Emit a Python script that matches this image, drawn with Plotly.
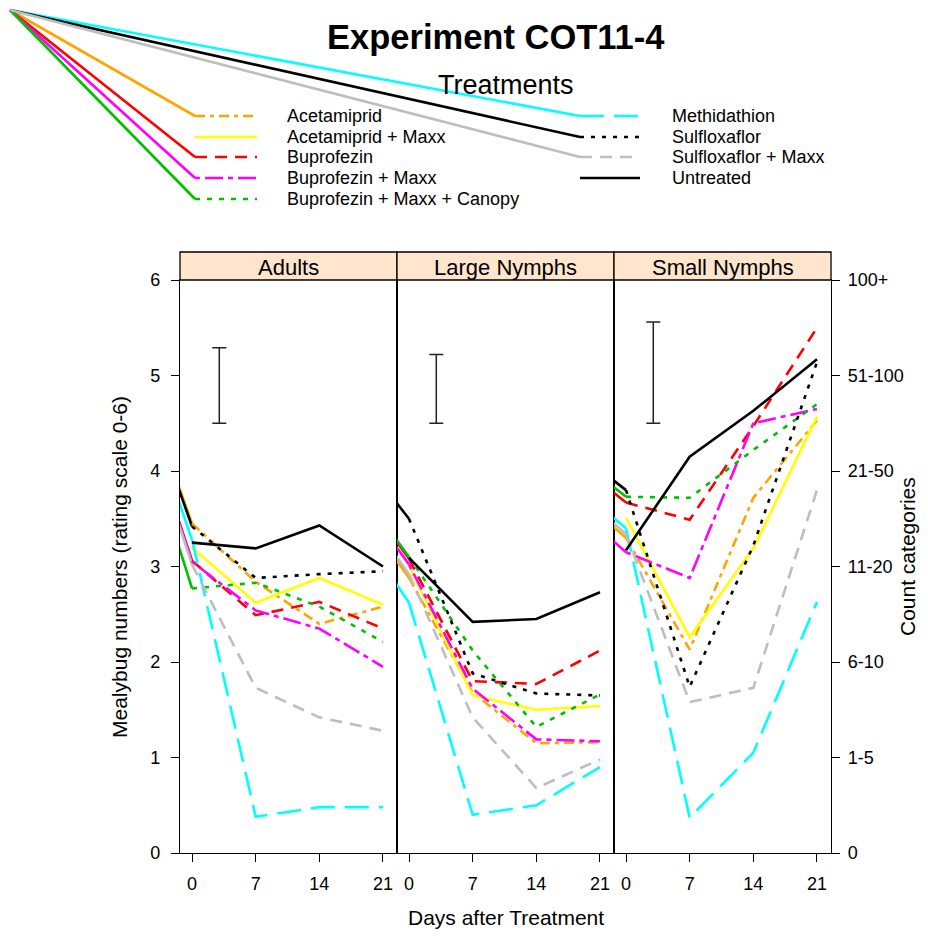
import plotly.graph_objects as go

# ---------------- data ----------------
days = [0, 7, 14, 21]
stages = ["Adults", "Large Nymphs", "Small Nymphs"]
treatments = ["Acetamiprid", "Acetamiprid + Maxx", "Buprofezin", "Buprofezin + Maxx",
              "Buprofezin + Maxx + Canopy", "Methidathion", "Sulfloxaflor",
              "Sulfloxaflor + Maxx", "Untreated"]

# mean rating (0-6) per stage [Adults, Large Nymphs, Small Nymphs] at days 0, 7, 14, 21
acetamiprid = [[3.45, 2.84, 2.40, 2.58], [2.88, 1.68, 1.15, 1.16], [3.30, 2.13, 3.72, 4.53]]
acetamiprid_maxx = [[3.20, 2.62, 2.88, 2.60], [3.00, 1.65, 1.50, 1.54], [3.51, 2.26, 3.19, 4.57]]
buprofezin = [[3.06, 2.49, 2.63, 2.35], [3.08, 1.80, 1.77, 2.12], [3.67, 3.49, 4.47, 5.50]]
buprofezin_maxx = [[3.05, 2.54, 2.35, 1.95], [3.02, 1.72, 1.19, 1.17], [3.15, 2.88, 4.50, 4.65]]
buprofezin_maxx_canopy = [[2.77, 2.83, 2.58, 2.21], [3.10, 2.12, 1.32, 1.66], [3.73, 3.72, 4.22, 4.70]]
methidathion = [[3.28, 0.38, 0.48, 0.48], [2.62, 0.40, 0.50, 0.90], [3.40, 0.37, 1.05, 2.63]]
sulfloxaflor = [[3.42, 2.88, 2.92, 2.95], [3.50, 1.88, 1.67, 1.65], [3.80, 1.74, 3.22, 5.14]]
sulfloxaflor_maxx = [[3.02, 1.73, 1.42, 1.28], [2.92, 1.42, 0.68, 0.98], [3.34, 1.58, 1.73, 3.80]]
untreated = [[3.25, 3.19, 3.43, 3.00], [3.09, 2.42, 2.45, 2.73], [3.17, 4.15, 4.63, 5.17]]

series = [acetamiprid, acetamiprid_maxx, buprofezin, buprofezin_maxx, buprofezin_maxx_canopy,
          methidathion, sulfloxaflor, sulfloxaflor_maxx, untreated]

# LSD bar per stage
lsd_day = 3
lsd_low = [4.5, 4.5, 4.5]
lsd_high = [5.29, 5.22, 5.56]

y_ticks = [0, 1, 2, 3, 4, 5, 6]
count_labels = ["0", "1-5", "6-10", "11-20", "21-50", "51-100", "100+"]
x_ticks = [0, 7, 14, 21]

# ---------------- styles ----------------
colors = ["#FFA500", "#FFFF00", "#FF0000", "#FF00FF", "#00C000",
          "#00FFFF", "#000000", "#BEBEBE", "#000000"]
dashes = ["10px,5px,4px,5px", "solid", "12px,8px", "5px,5px,18px,5px", "5px,7px",
          "24px,10px", "4px,7px", "12px,8px", "solid"]
LW = 2.6
FONT = "Liberation Sans, Arial, sans-serif"

OFF = 8                      # page body margin
WIN_W, WIN_H = 928, 938
P_LEFT, P_RIGHT, P_TOP, P_BOT = 180, 831, 280, 853   # plot area in window px
ML = P_LEFT - OFF
MT = P_TOP - OFF
W = WIN_W - 2 * OFF          # figure fits the page without scrolling
H = WIN_H - 2 * OFF
MR = W - (P_RIGHT - OFF)
MB = H - (P_BOT - OFF)
PW = P_RIGHT - P_LEFT
PH = P_BOT - P_TOP
XR = [-1.32, 22.54]
YR = [0, 6]
ORIGIN_PX = (10, 10)   # window position of stray pen strokes


def px_x(p):
    return (p - P_LEFT) / PW


def px_y(p):
    return (P_BOT - p) / PH


fig = go.Figure()
npan = len(stages)
for i in range(npan):
    sfx = "" if i == 0 else str(i + 1)
    xa, ya = "x" + sfx, "y" + sfx
    left_px = P_LEFT + i * PW / npan
    ppu = (PW / npan) / (XR[1] - XR[0])
    ox = XR[0] + (ORIGIN_PX[0] - left_px) / ppu
    oy = YR[0] + (P_BOT - ORIGIN_PX[1]) / PH * (YR[1] - YR[0])
    for k, s in enumerate(series):
        if dashes[k] == "solid":
            continue
        fig.add_trace(go.Scatter(x=[ox, days[0]], y=[oy, s[i][0]], mode="lines",
                                 line=dict(color=colors[k], width=LW),
                                 xaxis=xa, yaxis=ya, showlegend=False, hoverinfo="skip"))
    for k, s in enumerate(series):
        fig.add_trace(go.Scatter(x=days, y=s[i], mode="lines", name=treatments[k],
                                 line=dict(color=colors[k], width=LW, dash=dashes[k]),
                                 xaxis=xa, yaxis=ya, showlegend=False))
    mid = (lsd_low[i] + lsd_high[i]) / 2
    half = (lsd_high[i] - lsd_low[i]) / 2
    fig.add_trace(go.Scatter(x=[lsd_day], y=[mid], mode="markers",
                             marker=dict(size=1, color="rgba(0,0,0,0)"),
                             error_y=dict(type="data", array=[half], symmetric=True,
                                          color="#222222", thickness=1.5, width=7),
                             xaxis=xa, yaxis=ya, showlegend=False, hoverinfo="skip"))

axis_common = dict(showline=True, linecolor="black", linewidth=1.3, mirror=True,
                   showgrid=False, zeroline=False, ticks="outside", ticklen=8,
                   tickcolor="black", tickwidth=1.2,
                   tickfont=dict(family=FONT, size=18, color="black"))
layout = dict(width=W, height=H, margin=dict(l=ML, r=MR, t=MT, b=MB),
              plot_bgcolor="white", paper_bgcolor="white", showlegend=False)
for i in range(npan):
    sfx = "" if i == 0 else str(i + 1)
    dom = [i / npan, (i + 1) / npan]
    layout["xaxis" + sfx] = dict(axis_common, domain=dom, range=XR, tickvals=x_ticks,
                                 anchor="y" + sfx, ticklabelstandoff=6)
    yd = dict(axis_common, range=YR, anchor="x" + sfx, tickvals=y_ticks)
    if i == 0:
        yd.update(side="left", ticklabelstandoff=7)
    elif i == npan - 1:
        yd.update(side="right", ticktext=count_labels, ticklabelstandoff=4)
    else:
        yd.update(ticks="", showticklabels=False)
    if i > 0:
        yd.update(matches="y")
    layout["yaxis" + sfx] = yd
fig.update_layout(**layout)

shapes = []
annotations = []


def label(text, x, y, size, angle=0, xanchor="center"):
    annotations.append(dict(text=text, xref="paper", yref="paper", x=px_x(x), y=px_y(y),
                            xanchor=xanchor, yanchor="middle", textangle=angle,
                            showarrow=False,
                            font=dict(family=FONT, size=size, color="black")))


# strips
for i in range(npan):
    xa = "x" + ("" if i == 0 else str(i + 1))
    shapes.append(dict(type="rect", xref=xa + " domain", yref="paper", x0=0, x1=1,
                       y0=1, y1=px_y(P_TOP - 28), fillcolor="#FFE5CC",
                       line=dict(color="black", width=1.3), layer="above"))
    annotations.append(dict(text=stages[i], xref=xa + " domain", yref="paper", x=0.5,
                            y=px_y(P_TOP - 13), xanchor="center", yanchor="middle",
                            showarrow=False,
                            font=dict(family=FONT, size=22, color="black")))

label("<b>Experiment COT11-4</b>", 495, 37, 34.5)
label("Treatments", 506, 85, 27)
label("Days after Treatment", 506, 917, 21)
label("Mealybug numbers (rating scale 0-6)", 119, 567, 21, angle=-90)
label("Count categories", 907, 557, 21, angle=-90)

# legend (two columns)
rows_y = [116, 137, 157, 178, 199]
for k, name in enumerate(treatments):
    col = 0 if k < 5 else 1
    r = k if k < 5 else k - 5
    kx0, kx1 = (195, 257) if col == 0 else (580, 640)
    tx = 285 if col == 0 else 670
    yy = rows_y[r]
    if dashes[k] != "solid":
        shapes.append(dict(type="line", xref="paper", yref="paper",
                           x0=px_x(ORIGIN_PX[0]), y0=px_y(ORIGIN_PX[1]),
                           x1=px_x(kx0), y1=px_y(yy),
                           line=dict(color=colors[k], width=LW), layer="above"))
    shapes.append(dict(type="line", xref="paper", yref="paper", x0=px_x(kx0),
                       x1=px_x(kx1), y0=px_y(yy), y1=px_y(yy),
                       line=dict(color=colors[k], width=LW, dash=dashes[k]),
                       layer="above"))
    label(name, tx, yy, 18, xanchor="left")

fig.update_layout(shapes=shapes, annotations=annotations)
fig.write_html("out.html")
